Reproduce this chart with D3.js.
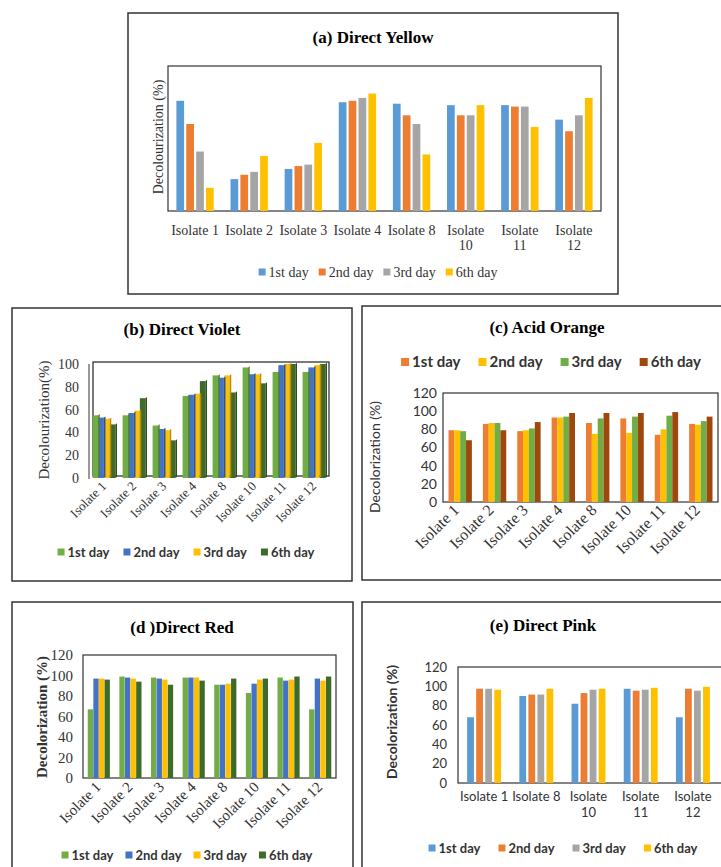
<!DOCTYPE html>
<html>
<head>
<meta charset="utf-8">
<script src="https://cdn.jsdelivr.net/npm/d3@7"></script>
<style>
  body { margin: 0; background: #fff; }
  svg { display: block; }
</style>
</head>
<body>
<script>
const W = 721, H = 867
const serif = '"Liberation Serif", "Times New Roman", serif'
const sans = 'Lato, "Open Sans", sans-serif'

// ---- data ----
const days = ['1st day', '2nd day', '3rd day', '6th day']
const isolates = ['Isolate 1', 'Isolate 2', 'Isolate 3', 'Isolate 4', 'Isolate 8', 'Isolate 10', 'Isolate 11', 'Isolate 12']
const pinkIsolates = ['Isolate 1', 'Isolate 8', 'Isolate 10', 'Isolate 11', 'Isolate 12']
const ticks100 = [0, 20, 40, 60, 80, 100]
const ticks120 = [0, 20, 40, 60, 80, 100, 120]

// one row per isolate: 1st, 2nd, 3rd, 6th day (%)
const directYellow = [
  [76, 60, 41, 16],
  [22, 25, 27, 38],
  [29, 31, 32, 47],
  [75, 76, 78, 81],
  [74, 66, 60, 39],
  [73, 66, 66, 73],
  [73, 72, 72, 58],
  [63, 55, 66, 78]
]
const directViolet = [
  [55, 53, 52, 47],
  [55, 57, 59, 70],
  [46, 43, 42, 33],
  [72, 73, 74, 85],
  [90, 88, 90, 75],
  [97, 91, 91, 83],
  [93, 99, 100, 100],
  [93, 97, 99, 100]
]
const acidOrange = [
  [79, 79, 78, 68],
  [86, 87, 87, 79],
  [78, 79, 81, 88],
  [93, 93, 94, 98],
  [87, 75, 92, 98],
  [92, 76, 94, 98],
  [74, 80, 95, 99],
  [86, 85, 89, 94]
]
const directRed = [
  [67, 97, 97, 96],
  [99, 98, 97, 94],
  [98, 97, 96, 91],
  [98, 98, 98, 95],
  [91, 91, 92, 97],
  [83, 92, 96, 97],
  [98, 95, 96, 99],
  [67, 97, 95, 99]
]
const directPink = [
  [68, 97.5, 97.5, 96.5],
  [90, 91.5, 91.5, 97.5],
  [82, 93, 96.5, 97.5],
  [97.5, 95.5, 96.5, 98.5],
  [68, 97.5, 95.5, 99.5]
]

// ---- colours ----
const officeColors = ['#5B9BD5', '#ED7D31', '#A5A5A5', '#FFC000']
const violetColors = ['#70AD47', '#4472C4', '#FFC000', '#3F6B2A']
const orangeColors = ['#ED7D31', '#FFC000', '#70AD47', '#9E480E']

const svg = d3.select('body').append('svg')
  .attr('width', W)
  .attr('height', H)

function drawPanel(c) {
  const g = svg.append('g')

  g.append('rect')
    .attr('x', c.box[0]).attr('y', c.box[1])
    .attr('width', c.box[2] - c.box[0]).attr('height', c.box[3] - c.box[1])
    .attr('fill', '#fff')
    .attr('stroke', '#333')
    .attr('stroke-width', 1.5)

  g.append('text')
    .attr('x', c.titleX).attr('y', c.titleY)
    .attr('text-anchor', 'middle')
    .style('font', 'bold 17px ' + serif)
    .text(c.title)

  const x0 = d3.scaleBand()
    .domain(c.cats)
    .range([c.frame.l, c.frame.r])
    .paddingInner(c.groupPad)
    .paddingOuter(c.groupPad / 2)
  const x1 = d3.scaleBand()
    .domain(days)
    .range([0, x0.bandwidth()])
    .paddingInner(c.barPad)
  const y = d3.scaleLinear()
    .domain([0, c.yMax])
    .range([c.frame.b, c.frame.t])

  const frameR = c.frame.rDraw || c.frame.r

  // plot frame
  if (c.depth) {
    g.append('rect')
      .attr('x', c.frame.l + c.depth).attr('y', c.frame.t - c.depth / 2)
      .attr('width', frameR - c.frame.l - c.depth).attr('height', c.frame.b - c.frame.t)
      .attr('fill', 'none').attr('stroke', '#222').attr('stroke-width', 1.2)
    g.append('line')
      .attr('x1', c.frame.l).attr('x2', c.frame.l)
      .attr('y1', y(c.yMax)).attr('y2', c.frame.b + 1)
      .attr('stroke', '#555').attr('stroke-width', 1.2)
  } else {
    g.append('rect')
      .attr('x', c.frame.l).attr('y', c.frame.t)
      .attr('width', frameR - c.frame.l).attr('height', c.frame.b - c.frame.t)
      .attr('fill', 'none').attr('stroke', '#333').attr('stroke-width', 1.2)
  }

  // bars
  const groups = g.selectAll('.grp')
    .data(c.values)
    .enter()
    .append('g')
      .attr('transform', (d, i) => `translate(${x0(c.cats[i])},0)`)

  groups.selectAll('rect')
    .data(d => d.map((v, j) => ({ v: v, day: days[j], j: j })))
    .enter()
    .append('rect')
      .attr('x', d => x1(d.day))
      .attr('y', d => y(d.v))
      .attr('width', x1.bandwidth())
      .attr('height', d => c.frame.b - y(d.v))
      .attr('fill', d => c.colors[d.j])

  if (c.depth) {
    // darker side faces for the 3-D look
    groups.selectAll('.side')
      .data(d => d.map((v, j) => ({ v: v, day: days[j], j: j })))
      .enter()
      .append('path')
        .attr('d', d => {
          const xr = x1(d.day) + x1.bandwidth()
          const yt = y(d.v)
          return `M${xr},${yt} l1.6,-1.2 L${xr + 1.6},${c.frame.b - 1.2} L${xr},${c.frame.b} Z`
        })
        .attr('fill', d => d3.color(c.colors[d.j]).darker(0.9))
  }

  // y ticks
  if (c.ticks) {
    g.selectAll('.ytick')
      .data(c.ticks)
      .enter()
      .append('text')
        .attr('x', c.tickX)
        .attr('y', d => y(d))
        .attr('dy', '0.35em')
        .attr('text-anchor', 'end')
        .style('font', c.tickFont)
        .attr('fill', '#333')
        .text(d => d)
  }

  // y label
  g.append('text')
    .attr('transform', `translate(${c.yLabelX},${c.yLabelY}) rotate(-90)`)
    .attr('text-anchor', 'middle')
    .style('font', c.yLabelFont)
    .attr('fill', '#333')
    .text(c.yLabel)

  // x labels
  const xl = g.selectAll('.xl')
    .data(c.cats)
    .enter()
    .append('text')
      .style('font', c.xFont)
      .attr('fill', '#333')
  if (c.rotate) {
    xl.attr('text-anchor', 'end')
      .attr('transform', d => `translate(${x0(d) + x0.bandwidth() / 2 + c.rotDx},${c.frame.b + c.rotDy}) rotate(-45)`)
      .text(d => d)
  } else {
    xl.attr('text-anchor', 'middle')
      .each(function(d) {
        const cx = x0(d) + x0.bandwidth() / 2
        const lines = d.length > 9 ? d.split(' ') : [d]
        lines.forEach((t, k) => {
          d3.select(this).append('tspan')
            .attr('x', cx)
            .attr('y', c.frame.b + c.xLabelDy + k * c.lineH)
            .text(t)
        })
      })
  }

  // legend
  const lg = g.append('g')
  let cursor = 0
  days.forEach((d, i) => {
    const item = lg.append('g').attr('transform', `translate(${cursor},0)`)
    item.append('rect')
      .attr('x', 0).attr('y', -c.sw / 2 - c.swUp)
      .attr('width', c.sw).attr('height', c.sw)
      .attr('fill', c.colors[i])
    const t = item.append('text')
      .attr('x', c.sw + 3)
      .attr('y', 0)
      .attr('dy', '0.35em')
      .style('font', c.legendFont)
      .attr('fill', '#333')
      .text(d)
    cursor += c.sw + 3 + t.node().getComputedTextLength() + c.legendGap
  })
  const total = cursor - c.legendGap
  lg.attr('transform', `translate(${c.legendCx - total / 2},${c.legendY})`)
}

// (a) Direct Yellow
drawPanel({
  box: [128, 13, 618, 294],
  title: '(a) Direct Yellow', titleX: 373, titleY: 43,
  cats: isolates, values: directYellow, colors: officeColors,
  frame: { l: 168, t: 66, r: 601, b: 211 },
  groupPad: 0.31, barPad: 0.22,
  yMax: 100, ticks: null,
  yLabel: 'Decolourization (%)', yLabelX: 163, yLabelY: 137, yLabelFont: '14px ' + serif,
  rotate: false, xFont: '14px ' + serif, xLabelDy: 24, lineH: 15,
  legendY: 272, legendCx: 378, legendFont: '14px ' + serif, legendGap: 10, sw: 7, swUp: 0
})

// (b) Direct Violet
drawPanel({
  box: [12, 308, 352, 581],
  title: '(b) Direct Violet', titleX: 182, titleY: 335,
  cats: isolates, values: directViolet, colors: violetColors,
  frame: { l: 89, t: 364, r: 329, b: 478 },
  groupPad: 0.24, barPad: 0.04, depth: 4,
  yMax: 100, ticks: ticks100, tickX: 79, tickFont: '14px ' + serif,
  yLabel: 'Decolourization(%)', yLabelX: 49, yLabelY: 420, yLabelFont: '15px ' + serif,
  rotate: true, xFont: '13px ' + serif, rotDx: 3, rotDy: 9,
  legendY: 552, legendCx: 186, legendFont: 'bold 13px ' + sans, legendGap: 14, sw: 7, swUp: 0
})

// (c) Acid Orange
drawPanel({
  box: [362, 306, 730, 580],
  title: '(c) Acid Orange', titleX: 547, titleY: 333,
  cats: isolates, values: acidOrange, colors: orangeColors,
  frame: { l: 443, t: 393, r: 718, b: 502 },
  groupPad: 0.32, barPad: 0.0,
  yMax: 120, ticks: ticks120, tickX: 437, tickFont: '14px ' + sans,
  yLabel: 'Decolorization (%)', yLabelX: 380, yLabelY: 457, yLabelFont: '14px ' + sans,
  rotate: true, xFont: '16px ' + serif, rotDx: 0, rotDy: 9,
  legendY: 362, legendCx: 551, legendFont: 'bold 15px ' + sans, legendGap: 18, sw: 8, swUp: 0
})

// (d) Direct Red
drawPanel({
  box: [12, 602, 353, 880],
  title: '(d )Direct Red', titleX: 182, titleY: 633,
  cats: isolates, values: directRed, colors: violetColors,
  frame: { l: 83, t: 655, r: 336, b: 778 },
  groupPad: 0.30, barPad: 0.05,
  yMax: 120, ticks: ticks120, tickX: 73, tickFont: '15px ' + serif,
  yLabel: 'Decolorization (%)', yLabelX: 47, yLabelY: 717, yLabelFont: 'bold 15px ' + serif,
  rotate: true, xFont: '15px ' + serif, rotDx: 3, rotDy: 10,
  legendY: 855, legendCx: 187, legendFont: 'bold 13px ' + sans, legendGap: 12, sw: 7, swUp: 0
})

// (e) Direct Pink
drawPanel({
  box: [362, 602, 740, 880],
  title: '(e) Direct Pink', titleX: 543, titleY: 631,
  cats: pinkIsolates, values: directPink, colors: officeColors,
  frame: { l: 458, t: 667, r: 719, rDraw: 740, b: 783 },
  groupPad: 0.35, barPad: 0.25,
  yMax: 120, ticks: ticks120, tickX: 447, tickFont: '13px ' + sans,
  yLabel: 'Decolorization (%)', yLabelX: 397, yLabelY: 722, yLabelFont: 'bold 14px ' + sans,
  rotate: false, xFont: '13px ' + sans, xLabelDy: 18, lineH: 16,
  legendY: 848, legendCx: 563, legendFont: 'bold 13px ' + sans, legendGap: 18, sw: 7, swUp: 0
})
</script>
</body>
</html>
